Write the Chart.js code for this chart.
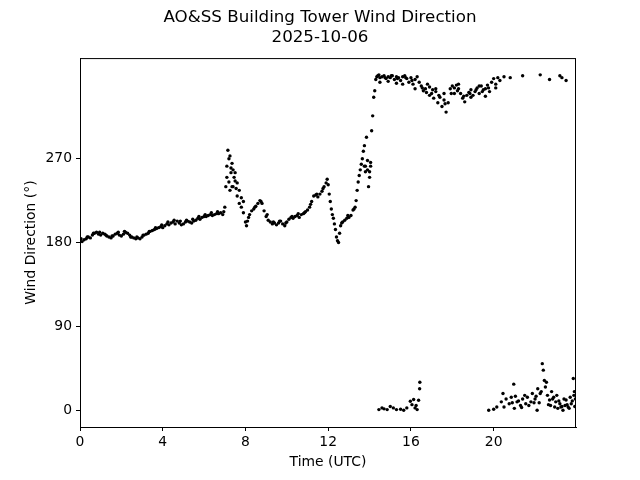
<!DOCTYPE html>
<html>
<head>
<meta charset="utf-8">
<script src="https://cdn.jsdelivr.net/npm/chart.js@4/dist/chart.umd.min.js"></script>
<style>
  html, body { margin: 0; padding: 0; background: #fff; }
  #wrap { width: 640px; height: 480px; }
</style>
</head>
<body>
<div id="wrap"><canvas id="chart"></canvas></div>
<script>
// continuous trace, 00 UTC to the veer through north (hours UTC, degrees)
const mainHours = [
  0.0,0.1,0.2,0.3,0.4,0.5,0.6,0.7,0.8,0.9,1.0,1.1,1.2,1.3,1.4,1.5,1.6,1.7,1.8,1.9,
  2.0,2.1,2.2,2.3,2.4,2.5,2.6,2.7,2.8,2.9,3.0,3.1,3.2,3.3,3.4,3.5,3.6,3.7,3.8,3.9,
  4.0,4.1,4.2,4.3,4.4,4.5,4.6,4.7,4.8,4.9,5.0,5.1,5.2,5.3,5.4,5.5,5.6,5.7,5.8,5.9,
  6.0,6.1,6.2,6.3,6.4,6.5,6.6,6.7,6.8,6.9,7.0,7.05,7.1,7.15,7.2,7.25,7.3,7.35,7.4,7.45,
  7.5,7.55,7.6,7.7,7.8,7.9,8.0,8.05,8.1,8.2,8.3,8.4,8.5,8.6,8.7,8.8,8.9,9.0,9.1,9.2,
  9.3,9.4,9.5,9.6,9.7,9.8,9.9,10.0,10.1,10.2,10.3,10.4,10.5,10.6,10.7,10.8,10.9,11.0,11.1,11.2,
  11.3,11.4,11.5,11.6,11.7,11.8,11.9,11.95,12.0,12.05,12.1,12.15,12.2,12.25,12.3,12.35,12.4,12.45,12.5,12.55,
  12.6,12.7,12.8,12.9,13.0,13.1,13.2,13.3,13.35,13.4,13.45,13.5,13.55,13.6,13.65,13.7,13.75,13.8,13.85,13.9,
  13.95,14.0,14.05,14.1,14.15,14.2,14.25,14.3
];
const mainDirs = [
  182,181,183,184,186,185,188,190,191,189,188,190,189,187,186,185,187,189,190,188,
  187,189,191,190,188,186,185,184,185,184,186,188,189,190,192,193,194,195,196,197,
  196,198,200,199,201,202,200,203,201,199,200,202,203,202,201,203,204,206,205,207,
  208,208,209,210,209,210,211,211,212,210,218,240,262,279,270,273,255,240,258,250,
  246,238,230,222,218,212,202,198,203,210,214,216,219,222,225,222,214,208,204,202,
  200,201,199,201,203,200,198,202,205,207,206,208,209,207,210,211,213,215,218,224,
  230,231,229,232,235,240,244,248,242,232,224,216,210,206,200,194,186,182,180,190,
  198,202,204,206,207,209,215,218,225,236,245,252,258,264,270,278,284,262,293,258,
  240,256,262,300,316,336,343,355
];

// second pass of samples along the same trace (scatter either side of it)
const jitterHours = [
  0.05,0.35,0.65,0.95,1.25,1.55,1.85,2.15,2.45,2.75,3.05,3.35,3.65,3.95,4.25,4.55,4.85,5.15,5.45,5.75,
  6.05,6.35,6.65,6.95,8.15,8.45,8.75,9.05,9.35,9.65,9.95,10.25,10.55,10.85,11.15,11.45,11.75,12.65,12.95,13.25
];
const jitterDirs = [
  184,186,190,191,188,187,191,192,186,186,188,192,196,199,202,204,203,204,205,208,
  210,212,213,213,207,218,224,210,202,203,201,208,211,212,221,232,238,201,209,216
];

// scatter around the gust peak and the afternoon rise
const spreadHours = [7.1,7.2,7.25,7.3,7.35,7.4,7.5,7.6,7.7,7.8,7.9,13.75,13.8,13.9,14.0,14.05];
const spreadDirs  = [250,245,236,260,265,240,255,244,236,228,224,262,256,268,250,266];

// northerly flow, upper band
const northHours = [
  14.35,14.4,14.5,14.6,14.7,14.8,14.9,15.0,15.1,15.2,15.3,15.4,15.5,15.6,15.7,15.8,15.9,16.0,16.1,16.2,
  16.3,16.4,16.5,16.6,16.7,16.8,16.9,17.0,17.1,17.2,17.3,17.4,17.5,17.6,17.7,17.8,17.9,18.0,18.1,18.2,
  18.3,18.4,18.5,18.6,18.7,18.8,18.9,19.0,19.1,19.2,19.3,19.4,19.5,19.6,19.7,19.8,19.9,20.0,20.1,20.2,
  20.3,20.5,20.8,21.4,22.25,22.7,23.2,23.3,23.5,
  14.5,14.9,15.3,15.6,16.2,16.9,17.2,17.6,18.1,18.3,18.9,19.3,19.6,20.1,
  14.45,14.75,15.05,15.35,15.75,16.05,16.55,16.75,17.05,17.35,17.65,17.95,18.25,18.55,18.85,19.15,19.45,19.75
];
const northDirs = [
  358,359,357,358,359,356,358,357,359,355,358,357,354,358,359,356,352,357,350,355,
  358,352,348,343,345,350,347,340,335,342,330,336,326,333,320,330,345,348,346,349,
  345,340,335,331,338,341,344,338,342,346,340,348,344,337,349,342,352,356,350,357,
  354,358,357,359,360,355,359,357,354,
  352,353,351,350,345,338,345,340,340,350,336,348,345,346,
  360,357,359,356,357,354,346,341,344,338,329,340,343,337,340,344,342,346
];

// same flow wrapped past 360, lower band
const wrapHours = [
  14.45,14.6,14.7,14.85,15.0,15.15,15.3,15.5,15.65,15.8,15.97,16.05,16.13,16.2,16.25,16.3,16.37,16.42,16.43,
  19.76,20.0,20.15,20.37,20.45,20.5,20.6,20.75,20.85,20.9,20.97,21.0,21.05,21.13,21.2,21.3,21.35,21.4,21.5,21.55,
  21.63,21.7,21.8,21.87,21.95,22.0,22.05,22.1,22.13,22.2,22.25,22.3,22.35,22.4,22.45,22.5,22.55,22.6,22.65,22.7,
  22.75,22.8,22.85,22.9,22.95,23.0,23.05,23.1,23.15,23.2,23.25,23.3,23.35,23.4,23.45,23.5,23.55,23.6,23.65,23.7,
  23.75,23.8,23.85,23.88,23.9,23.92,23.95
];
const wrapDirs = [
  0.7,2.5,1.5,0.7,4,2.5,0.7,1,0,2.5,9.6,6,11.5,2.5,5,0.7,10.7,23,30,
  0,1,3.5,9,18,3.5,12,7,14,8,28,2,15,9,10,5,3,12,16,7,
  14,5,9,18,8,12,15,0,23,8,18,20,50,43,32,25,30,16,6,11,
  5,20,12,14,3.5,9,16,2,10,7,3.5,4,0,12,5,11,6,3.5,2,14,
  7,10,34,16,20,4,12
];

const xTicks = [0, 4, 8, 12, 16, 20];
const yTicks = [0, 90, 180, 270];

const points = [];
[[mainHours, mainDirs], [jitterHours, jitterDirs], [spreadHours, spreadDirs],
 [northHours, northDirs], [wrapHours, wrapDirs]]
  .forEach(([hs, ds]) => hs.forEach((h, i) => points.push({ x: h, y: ds[i] })));

const font = "'DejaVu Sans', sans-serif";

const frame = {
  id: 'frame',
  afterDraw(chart) {
    const { ctx, chartArea: a } = chart;
    ctx.save();
    ctx.strokeStyle = '#000';
    ctx.lineWidth = 1;
    ctx.strokeRect(a.left + 0.5, a.top + 0.5, a.right - a.left - 1, a.bottom - a.top);
    ctx.restore();
  }
};

new Chart(document.getElementById('chart').getContext('2d'), {
  type: 'scatter',
  data: {
    datasets: [{
      label: 'Wind Direction',
      data: points,
      backgroundColor: '#000',
      borderWidth: 0,
      pointRadius: 1.7
    }]
  },
  options: {
    responsive: true,
    maintainAspectRatio: false,
    animation: false,
    layout: { padding: 0 },
    plugins: {
      legend: { display: false },
      tooltip: { enabled: false },
      title: {
        display: true,
        text: ['AO&SS Building Tower Wind Direction', '2025-10-06'],
        color: '#000',
        font: { family: font, size: 16.7, weight: 'normal', lineHeight: 1.2 },
        padding: { top: 8, bottom: 10 }
      }
    },
    scales: {
      x: {
        type: 'linear',
        min: 0,
        max: 23.98,
        afterBuildTicks: s => { s.ticks = xTicks.map(v => ({ value: v })); },
        afterFit: s => { s.height = 53; },
        grid: { display: true, drawOnChartArea: false, drawTicks: true, tickLength: 4, color: '#000' },
        border: { display: true, color: '#000' },
        ticks: { color: '#000', font: { family: font, size: 13.9 }, padding: 3, maxRotation: 0 },
        title: { display: true, text: 'Time (UTC)', color: '#000', font: { family: font, size: 13.9 }, padding: { top: 0, bottom: 9 } }
      },
      y: {
        min: -18,
        max: 378,
        afterBuildTicks: s => { s.ticks = yTicks.map(v => ({ value: v })); },
        afterFit: s => { s.width = 80; },
        grid: { display: true, drawOnChartArea: false, drawTicks: true, tickLength: 4, color: '#000' },
        border: { display: true, color: '#000' },
        ticks: { color: '#000', font: { family: font, size: 13.9 }, padding: 4 },
        title: { display: true, text: 'Wind Direction (°)', color: '#000', font: { family: font, size: 13.9 }, padding: { top: 23, bottom: 0 } }
      },
      // empty right-hand margin so the title centres on the whole figure
      yRight: {
        position: 'right',
        display: true,
        afterFit: s => { s.width = 64; },
        grid: { display: false },
        border: { display: false },
        ticks: { display: false }
      }
    }
  },
  plugins: [frame]
});
</script>
</body>
</html>
